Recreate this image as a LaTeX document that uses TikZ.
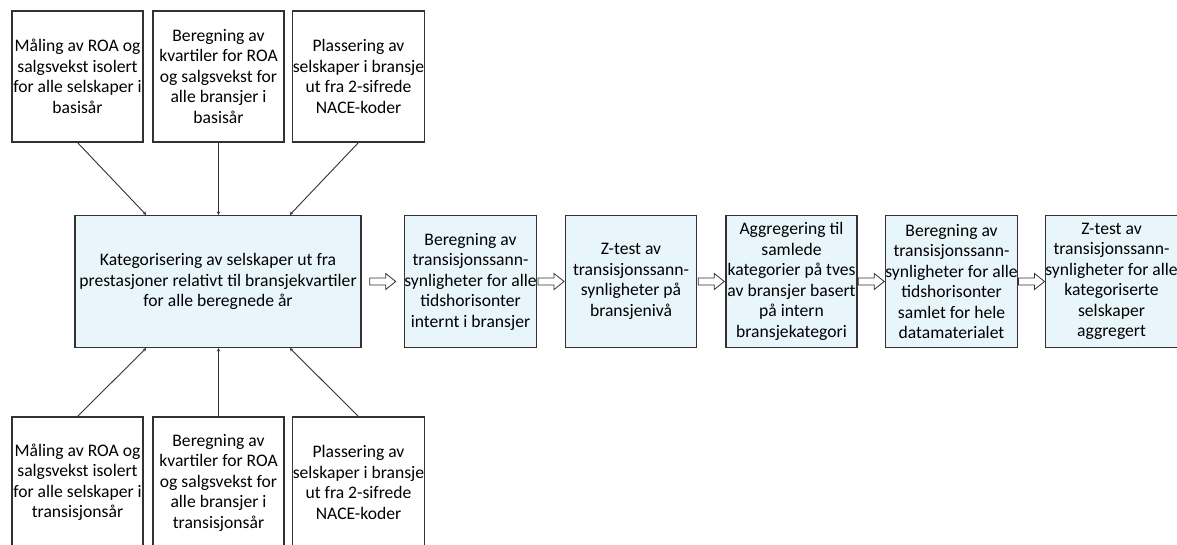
\documentclass[tikz,border=0pt]{standalone}
\usepackage{fontspec}
\setmainfont{Carlito}
\usetikzlibrary{calc,arrows.meta}
\definecolor{boxfill}{RGB}{232,246,252}
\definecolor{edge}{RGB}{50,50,50}
\tikzset{
  inbox/.style={draw=edge, line width=1.1pt, fill=white, minimum width=131pt, minimum height=131pt,
    inner sep=0pt, align=center, font=\fontsize{17.6}{20.5}\selectfont},
  stepbox/.style={draw=edge, line width=1.1pt, fill=boxfill, minimum width=131pt, minimum height=132pt,
    inner sep=0pt, align=center, font=\fontsize{17.6}{20.5}\selectfont},
  feed/.style={draw=edge, line width=0.9pt, -{Stealth[length=3.5pt,width=3.5pt]}},
  hollow/.style={draw=edge, line width=0.8pt, fill=white, line join=miter}
}
\begin{document}
\begin{tikzpicture}[x=1pt,y=-1pt]
\useasboundingbox (0,0) rectangle (1177,545);
\clip (0,0) rectangle (1177,545);
\fill[white] (0,0) rectangle (1177,545);
% top inputs
\node[inbox] (t1) at (77.5,76.5) {Måling av ROA og\\salgsvekst isolert\\for alle selskaper i\\basisår};
\node[inbox] (t2) at (218.5,76.5) {Beregning av\\kvartiler for ROA\\og salgsvekst for\\alle bransjer i\\basisår};
\node[inbox] (t3) at (358.5,76.5) {Plassering av\\selskaper i bransje\\ut fra 2-sifrede\\NACE-koder};
% bottom inputs
\node[inbox] (b1) at (77.5,482.5) {Måling av ROA og\\salgsvekst isolert\\for alle selskaper i\\transisjonsår};
\node[inbox] (b2) at (218.5,482.5) {Beregning av\\kvartiler for ROA\\og salgsvekst for\\alle bransjer i\\transisjonsår};
\node[inbox] (b3) at (358.5,482.5) {Plassering av\\selskaper i bransje\\ut fra 2-sifrede\\NACE-koder};
% main
\node[stepbox, minimum width=286pt] (main) at (218,281.5) {Kategorisering av selskaper ut fra\\prestasjoner relativt til bransjekvartiler\\for alle beregnede år};
% chain
\node[stepbox] (sA) at (470.5,281.5) {Beregning av\\transisjonssann-\\synligheter for alle\\tidshorisonter\\internt i bransjer};
\node[stepbox] (sB) at (631,281.5) {Z-test av\\transisjonssann-\\synligheter på\\bransjenivå};
\node[stepbox] (sC) at (791.5,281.5) {Aggregering til\\samlede\\kategorier på tves\\av bransjer basert\\på intern\\bransjekategori};
\node[stepbox] (sD) at (951.5,281.5) {Beregning av\\transisjonssann-\\synligheter for alle\\tidshorisonter\\samlet for hele\\datamaterialet};
\node[stepbox] (sE) at (1111.5,281.5) {Z-test av\\transisjonssann-\\synligheter for alle\\kategoriserte\\selskaper\\aggregert};
% feeders
\draw[feed] (t1.south) -- ($(main.north)!0.5!(main.north west)$);
\draw[feed] (t2.south) -- (main.north -| t2.south);
\draw[feed] (t3.south) -- ($(main.north)!0.5!(main.north east)$);
\draw[feed] (b1.north) -- ($(main.south)!0.5!(main.south west)$);
\draw[feed] (b2.north) -- (main.south -| b2.north);
\draw[feed] (b3.north) -- ($(main.south)!0.5!(main.south east)$);
% hollow arrows
\foreach \a/\b in {main/sA, sA/sB, sB/sC, sC/sD, sD/sE}{
  \path ($(\a.east)!0.5!(\b.west)$) coordinate (m);
  \draw[hollow] ($(m)+(-13,-3.5)$) -- ++(16,0) -- ++(0,-4.5) -- ($(m)+(13,0)$)
     -- ($(m)+(3,8)$) -- ++(0,-4.5) -- ++(-16,0) -- cycle;
}
\end{tikzpicture}
\end{document}
